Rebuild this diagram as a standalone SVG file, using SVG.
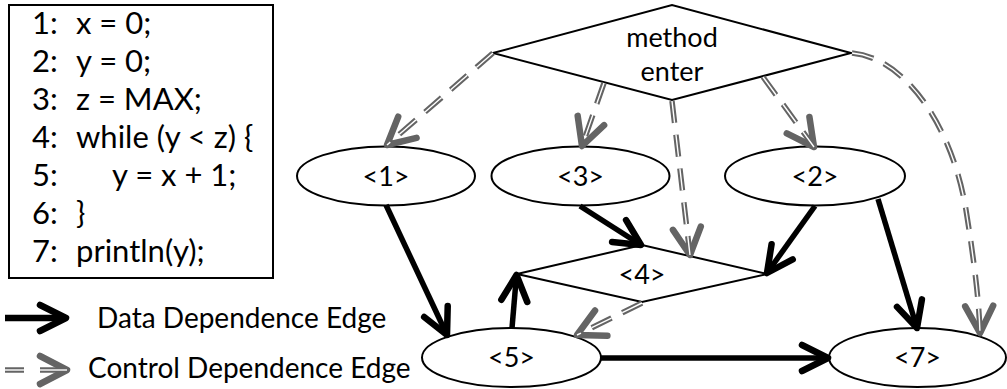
<svg xmlns="http://www.w3.org/2000/svg" width="1007" height="389" viewBox="0 0 1007 389">
  <defs>
    <style>
      .txt { font-family: Lato, "Liberation Sans", sans-serif; fill: #000; }
      .code { font-size: 31px; }
      .label { font-size: 27px; text-anchor: middle; }
      .legend { font-size: 28px; }
      .node { fill: #fff; stroke: #000; stroke-width: 2; }
      .data { fill: none; stroke: #000; stroke-width: 5.5; marker-end: url(#dataHead); }
      .ctrl { fill: none; stroke: #646464; stroke-width: 5.5; stroke-dasharray: 22 12; marker-end: url(#ctrlHead); }
      .core { fill: none; stroke: #fff; stroke-width: 1.4; stroke-dasharray: 22 12; }
    </style>
    <marker id="dataHead" markerUnits="userSpaceOnUse" viewBox="-30 -20 40 40" markerWidth="40" markerHeight="40" refX="0" refY="0" orient="auto" overflow="visible">
      <path d="M -26 -13 L 0 0 L -26 13" fill="none" stroke="#000" stroke-width="6.5" stroke-linecap="round" stroke-linejoin="round"/>
    </marker>
    <marker id="ctrlHead" markerUnits="userSpaceOnUse" viewBox="-30 -20 40 40" markerWidth="40" markerHeight="40" refX="0" refY="0" orient="auto" overflow="visible">
      <path d="M -27 -14 L 0 0 L -27 14" fill="none" stroke="#646464" stroke-width="6.5" stroke-linecap="round" stroke-linejoin="round"/>
    </marker>
  </defs>

  <!-- source listing -->
  <g id="code">
    <rect x="9" y="5" width="264" height="273" fill="#fff" stroke="#000" stroke-width="2"/>
    <g class="txt code">
      <text x="32" y="34">1:</text><text x="76" y="34">x = 0;</text>
      <text x="32" y="72">2:</text><text x="76" y="72">y = 0;</text>
      <text x="32" y="110">3:</text><text x="76" y="110">z = MAX;</text>
      <text x="32" y="148">4:</text><text x="76" y="148">while (y &lt; z) {</text>
      <text x="32" y="186">5:</text><text x="112" y="186">y = x + 1;</text>
      <text x="32" y="224">6:</text><text x="76" y="224">}</text>
      <text x="32" y="262">7:</text><text x="76" y="262">println(y);</text>
    </g>
  </g>

  <!-- legend -->
  <g id="legend">
    <line x1="5" y1="318" x2="66" y2="318" stroke="#000" stroke-width="6.5" marker-end="url(#dataHead)"/>
    <text class="txt legend" x="97" y="328">Data Dependence Edge</text>
    <line x1="5" y1="370" x2="24" y2="370" stroke="#646464" stroke-width="5.5"/>
    <line x1="5" y1="370" x2="24" y2="370" stroke="#fff" stroke-width="1.4"/>
    <line x1="40" y1="370" x2="67" y2="370" stroke="#646464" stroke-width="5.5" marker-end="url(#ctrlHead)"/>
    <line x1="40" y1="370" x2="67" y2="370" stroke="#fff" stroke-width="1.4"/>
    <text class="txt legend" x="88" y="378">Control Dependence Edge</text>
  </g>

  <!-- graph nodes -->
  <g id="n-enter">
    <polygon class="node" points="493,53 672,5 851,53 672,100"/>
    <text class="txt label" x="672" y="47">method</text>
    <text class="txt label" x="672" y="81">enter</text>
  </g>
  <g id="n1">
    <ellipse class="node" cx="386" cy="176" rx="89" ry="29.5"/>
    <text class="txt label" x="386" y="186">&lt;1&gt;</text>
  </g>
  <g id="n3">
    <ellipse class="node" cx="580.5" cy="176" rx="89" ry="29.5"/>
    <text class="txt label" x="580.5" y="186">&lt;3&gt;</text>
  </g>
  <g id="n2">
    <ellipse class="node" cx="815" cy="176" rx="90" ry="29.5"/>
    <text class="txt label" x="815" y="186">&lt;2&gt;</text>
  </g>
  <g id="n4">
    <polygon class="node" points="517,274 642,245 767,274 642,302"/>
    <text class="txt label" x="642" y="284">&lt;4&gt;</text>
  </g>
  <g id="n5">
    <ellipse class="node" cx="511.5" cy="357.5" rx="89.5" ry="29.5"/>
    <text class="txt label" x="511.5" y="367">&lt;5&gt;</text>
  </g>
  <g id="n7">
    <ellipse class="node" cx="917.5" cy="357.5" rx="88.5" ry="29.5"/>
    <text class="txt label" x="917.5" y="367">&lt;7&gt;</text>
  </g>

  <!-- dependence edges -->
  <g id="edges">
    <!-- data dependences -->
    <line class="data" x1="386" y1="205" x2="447" y2="335"/>
    <line class="data" x1="580" y1="206" x2="641" y2="245"/>
    <line class="data" x1="815" y1="206" x2="767" y2="273"/>
    <line class="data" x1="878" y1="199" x2="917" y2="328"/>
    <line class="data" x1="512" y1="328" x2="516.5" y2="275"/>
    <line class="data" x1="601" y1="358" x2="828" y2="358"/>

    <!-- control dependences -->
    <path class="ctrl" d="M 493 53 L 387 145"/>
    <path class="core" d="M 493 53 L 387 145"/>
    <path class="ctrl" d="M 604 83 L 582 146"/>
    <path class="core" d="M 604 83 L 582 146"/>
    <path class="ctrl" d="M 672 101 L 690 255"/>
    <path class="core" d="M 672 101 L 690 255"/>
    <path class="ctrl" d="M 763 77 L 814 147"/>
    <path class="core" d="M 763 77 L 814 147"/>
    <path class="ctrl" d="M 852 53 C 905 58, 952 125, 966 210 C 974 260, 979 300, 980 333"/>
    <path class="core" d="M 852 53 C 905 58, 952 125, 966 210 C 974 260, 979 300, 980 333"/>
    <path class="ctrl" d="M 642 303 L 577 335"/>
    <path class="core" d="M 642 303 L 577 335"/>
  </g>
</svg>
